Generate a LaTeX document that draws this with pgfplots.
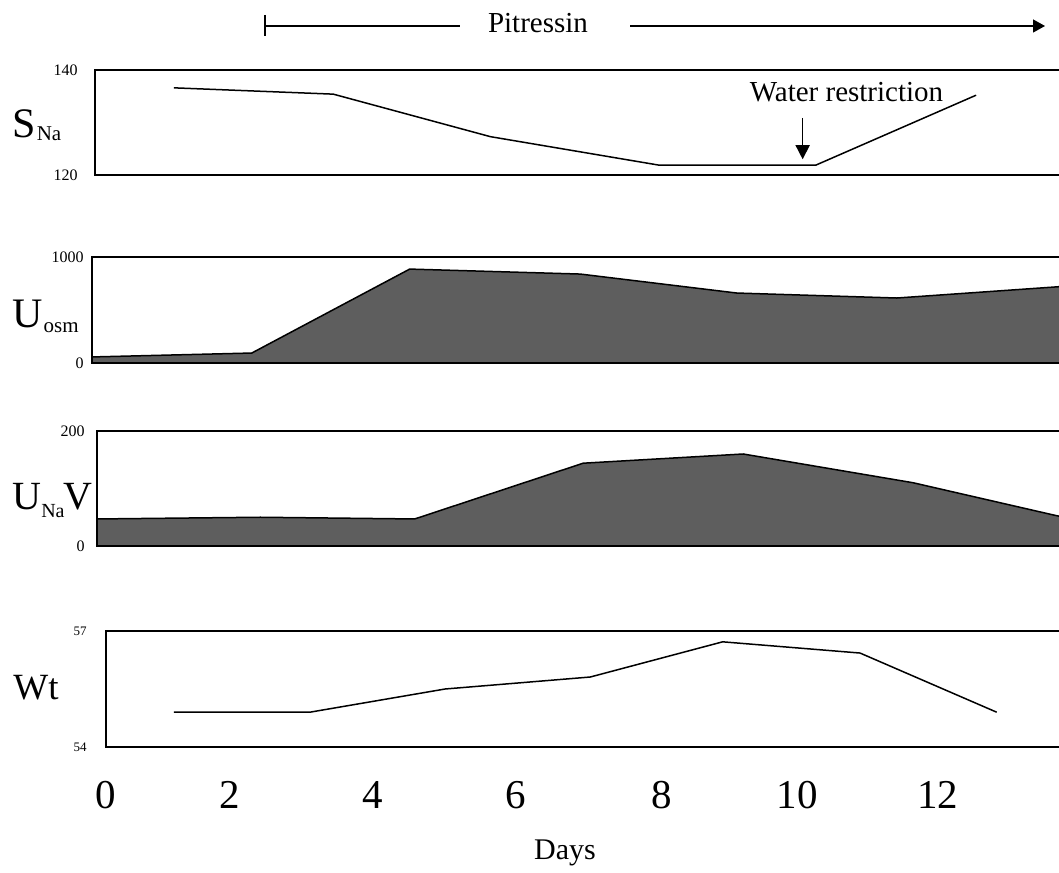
\documentclass[border=0pt]{standalone}
\usepackage{fontspec}
\setmainfont{Liberation Serif}
\usepackage{pgfplots}
\pgfplotsset{compat=1.18}
\usetikzlibrary{arrows.meta}
\definecolor{fillgray}{gray}{0.37}
\pgfplotsset{panel/.style={
  anchor=south west, x=35.4pt, xmax=13.75,
  axis line style={line width=1pt},
  tick style={draw=none}, major tick length=0pt,
  xtick=\empty,
  yticklabel style={anchor=east, inner sep=0pt, font=\fontsize{8}{8}\selectfont},
}}
\begin{document}
\begin{tikzpicture}
% S_Na
\begin{axis}[panel, at={(47.5pt,348.5pt)}, xmin=0.065, ymin=120, ymax=140, y=2.625pt,
  ytick={120,140}, yticklabels={120,140}, yticklabel style={xshift=-8.5pt}]
\addplot[line width=0.75pt] coordinates {(1.18,136.6) (3.43,135.4) (5.65,127.3) (8.02,121.9) (10.25,121.9) (12.51,135.2)};
\draw[-{Triangle[length=7pt,width=7pt]}, line width=0.8pt] (axis cs:10.06,130.9) -- (axis cs:10.06,123.0);
\end{axis}
% U_osm
\begin{axis}[panel, at={(46pt,254.5pt)}, xmin=0.023, ymin=0, ymax=1000, y=0.053pt,
  ytick={0,1000}, yticklabels={0,1000}, yticklabel style={xshift=-4pt}]
\addplot[draw=black, line width=0.75pt, fill=fillgray] coordinates {(0.023,57) (2.28,94) (4.51,886) (6.92,839) (9.13,660) (11.39,613) (13.6,716) (13.75,723)} \closedcycle;
\end{axis}
% U_Na V
\begin{axis}[panel, at={(48.5pt,163pt)}, xmin=0.093, ymin=0, ymax=200, y=0.2875pt,
  ytick={0,200}, yticklabels={0,200}, yticklabel style={xshift=-6pt}]
\addplot[draw=black, line width=0.75pt, fill=fillgray] coordinates {(0.093,47) (2.40,50) (4.58,47) (6.96,144) (9.22,160) (11.62,110) (13.6,54) (13.75,50)} \closedcycle;
\end{axis}
% Wt
\begin{axis}[panel, at={(53pt,62.5pt)}, xmin=0.22, ymin=54, ymax=57, y=19.333pt,
  ytick={54,57}, yticklabels={54,57}, yticklabel style={xshift=-9.5pt, font=\fontsize{6.5}{7}\selectfont},
  xtick={0.22,1.97,3.99,6.01,8.07,9.98,11.97}, xticklabels={0,2,4,6,8,10,12},
  xticklabel style={anchor=center, yshift=-24pt, font=\fontsize{20.5}{20}\selectfont}]
\addplot[line width=0.75pt] coordinates {(1.18,54.9) (3.1,54.9) (5.01,55.5) (7.06,55.81) (8.93,56.72) (10.87,56.43) (12.8,54.9)};
\end{axis}
% labels
\node[anchor=base west, inner sep=0pt] at (6pt,367pt) {\fontsize{21}{21}\selectfont S\kern0.5pt\raisebox{-1.5pt}{\fontsize{10.5}{11}\selectfont Na}};
\node[anchor=base west, inner sep=0pt] at (6pt,272pt) {\fontsize{21}{21}\selectfont U\kern0.5pt\raisebox{-2.5pt}{\fontsize{10.5}{11}\selectfont osm}};
\node[anchor=base west, inner sep=0pt] at (6pt,181pt) {\fontsize{20}{20}\selectfont U\raisebox{-4pt}{\fontsize{10}{10}\selectfont Na}\kern-0.5ptV};
\node[anchor=base west, inner sep=0pt] at (6.5pt,86pt) {\fontsize{18.5}{18}\selectfont Wt};
\node[anchor=base, inner sep=0pt] at (282.5pt,6pt) {\fontsize{15}{15}\selectfont Days};
\node[anchor=base, inner sep=0pt] at (423.25pt,385pt) {\fontsize{14.5}{15}\selectfont Water restriction};
% Pitressin
\node[anchor=base, inner sep=0pt] at (269pt,419.5pt) {\fontsize{14.5}{14}\selectfont Pitressin};
\draw[line width=0.6pt] (132.5pt,428.5pt) -- (132.5pt,418pt);
\draw[line width=0.6pt] (132.5pt,423pt) -- (230pt,423pt);
\draw[line width=0.6pt, -{Triangle[length=6pt,width=6.5pt]}] (315pt,423pt) -- (522.5pt,423pt);
\pgfresetboundingbox
\path (0,0) rectangle (529.5pt,436pt);
\end{tikzpicture}
\end{document}
